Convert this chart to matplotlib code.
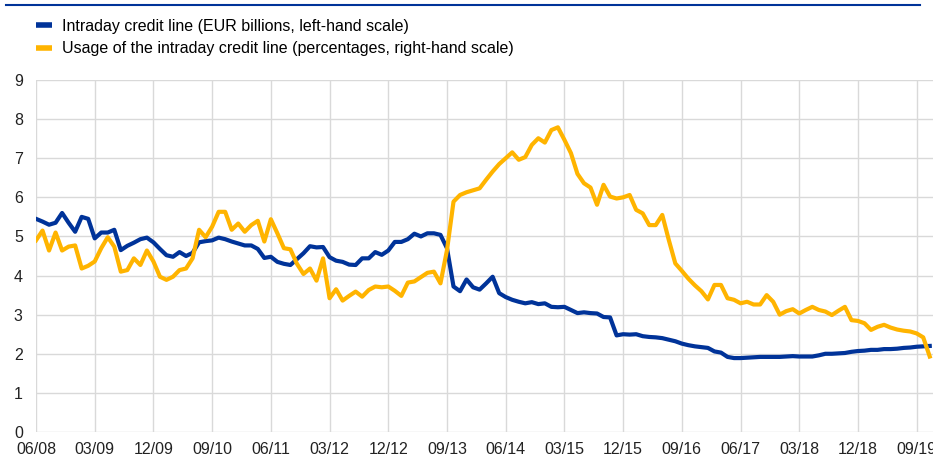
import matplotlib
matplotlib.use("Agg")
import matplotlib.pyplot as plt
from matplotlib.lines import Line2D
import numpy as np

# monthly observations, 06/2008 - 11/2019
credit_line = [
    5.45, 5.38, 5.30, 5.35, 5.60, 5.35, 5.12, 5.50, 5.45, 4.95,
    5.10, 5.10, 5.17, 4.65, 4.76, 4.84, 4.93, 4.97, 4.85, 4.68,
    4.52, 4.48, 4.60, 4.50, 4.58, 4.85, 4.88, 4.90, 4.97, 4.93,
    4.87, 4.82, 4.77, 4.77, 4.68, 4.45, 4.48, 4.35, 4.30, 4.27,
    4.42, 4.57, 4.75, 4.72, 4.73, 4.47, 4.38, 4.35, 4.28, 4.27,
    4.44, 4.44, 4.60, 4.53, 4.64, 4.86, 4.86, 4.93, 5.07, 5.00,
    5.08, 5.08, 5.04, 4.70, 3.72, 3.60, 3.90, 3.70, 3.64, 3.80,
    3.97, 3.55, 3.45, 3.38, 3.33, 3.29, 3.32, 3.27, 3.29, 3.20,
    3.19, 3.20, 3.12, 3.04, 3.06, 3.04, 3.03, 2.94, 2.93, 2.47,
    2.50, 2.49, 2.50, 2.45, 2.43, 2.42, 2.40, 2.36, 2.32, 2.26,
    2.22, 2.19, 2.17, 2.15, 2.06, 2.03, 1.92, 1.89, 1.89, 1.90,
    1.91, 1.92, 1.92, 1.92, 1.92, 1.93, 1.94, 1.93, 1.93, 1.93,
    1.96, 2.00, 2.00, 2.01, 2.02, 2.05, 2.07, 2.08, 2.10, 2.10,
    2.12, 2.12, 2.13, 2.15, 2.16, 2.18, 2.19, 2.20,
]

usage = [
    4.90, 5.15, 4.64, 5.10, 4.64, 4.74, 4.77, 4.18, 4.25, 4.36,
    4.70, 4.98, 4.74, 4.10, 4.14, 4.44, 4.27, 4.64, 4.36, 3.97,
    3.89, 3.97, 4.14, 4.18, 4.44, 5.17, 4.98, 5.25, 5.63, 5.63,
    5.17, 5.33, 5.12, 5.29, 5.40, 4.87, 5.44, 5.08, 4.70, 4.67,
    4.30, 4.04, 4.18, 3.87, 4.44, 3.42, 3.65, 3.36, 3.48, 3.59,
    3.46, 3.63, 3.72, 3.70, 3.72, 3.61, 3.48, 3.82, 3.85, 3.96,
    4.07, 4.10, 3.80, 4.65, 5.89, 6.06, 6.13, 6.18, 6.23, 6.45,
    6.66, 6.85, 7.00, 7.15, 6.96, 7.03, 7.34, 7.51, 7.40, 7.72,
    7.79, 7.47, 7.13, 6.60, 6.36, 6.25, 5.81, 6.32, 6.02, 5.97,
    6.00, 6.06, 5.68, 5.59, 5.29, 5.29, 5.55, 4.91, 4.31, 4.12,
    3.92, 3.75, 3.60, 3.39, 3.76, 3.76, 3.42, 3.38, 3.29, 3.33,
    3.26, 3.26, 3.50, 3.33, 3.00, 3.09, 3.14, 3.03, 3.12, 3.20,
    3.12, 3.08, 2.99, 3.10, 3.20, 2.86, 2.84, 2.78, 2.61, 2.69,
    2.74, 2.67, 2.62, 2.59, 2.57, 2.52, 2.42, 1.93,
]

tick_labels = ["06/08", "03/09", "12/09", "09/10", "06/11", "03/12", "12/12",
               "09/13", "06/14", "03/15", "12/15", "09/16", "06/17", "03/18",
               "12/18", "09/19"]

blue = "#003399"
yellow = "#FFB400"
plt.rcParams["font.family"] = ["Liberation Sans", "DejaVu Sans"]

fig = plt.figure(figsize=(9.33, 4.55), dpi=100)
ax = fig.add_axes([36 / 933, 1 - 432 / 455, 1 - 36 / 933, (432 - 80) / 455])

months = np.arange(len(credit_line))
ax.plot(months, credit_line, color=blue, lw=3.0, solid_joinstyle="round", zorder=3)
ax.plot(months, usage, color=yellow, lw=3.0, solid_joinstyle="round", zorder=3)

ax.set_xlim(0, 137.5)
ax.set_ylim(0, 9)
ax.set_yticks(range(10))
ax.set_xticks(np.arange(len(tick_labels)) * 9)
ax.set_xticklabels(tick_labels)
ax.tick_params(axis="both", length=0, labelsize=11.5, colors="#222222")
ax.tick_params(axis="y", pad=9.5)
ax.tick_params(axis="x", pad=7)
ax.grid(True, color="#d9d9d9", lw=1.0)
ax.set_axisbelow(True)
for s in ax.spines.values():
    s.set_visible(False)

handles = [Line2D([], [], color=blue, lw=4, solid_capstyle="butt"),
           Line2D([], [], color=yellow, lw=4, solid_capstyle="butt")]
fig.legend(handles,
           ["Intraday credit line (EUR billions, left-hand scale)",
            "Usage of the intraday credit line (percentages, right-hand scale)"],
           loc="upper left", bbox_to_anchor=(36 / 933, 1 - 19 / 455),
           frameon=False, fontsize=11.5, handlelength=1.0, handletextpad=0.6,
           labelspacing=0.45, borderpad=0, borderaxespad=0)

fig.add_artist(Line2D([6 / 933, 920 / 933], [1 - 5 / 455] * 2, color=blue, lw=1.5))

fig.savefig("out.png", dpi=100)
